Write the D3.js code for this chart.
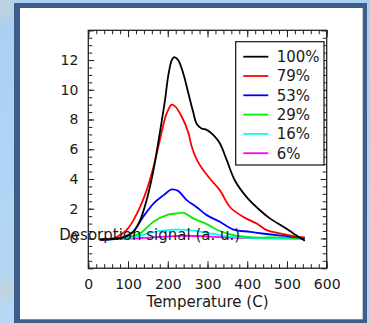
<!DOCTYPE html>
<html><head><meta charset="utf-8">
<script src="https://cdn.jsdelivr.net/npm/d3@7"></script>
<style>html,body{margin:0;padding:0;overflow:hidden;background:#aed2f2;} svg{display:block;}</style>
</head><body><svg id="c" width="370" height="323"></svg>
<script>
// ---- data ----
const labels = ["100%", "79%", "53%", "29%", "16%", "6%"];
const colors = ["#000000", "#ff0000", "#0000ff", "#00ee00", "#00ffff", "#ff00ff"];

const t100 = [29, 88, 113, 130, 147, 164, 180, 193, 201, 210, 216, 226, 239, 252, 263, 273, 285, 298, 315, 331, 348, 369, 398, 432, 457, 491, 516, 545];
const v100 = [-0.07, 0.07, 0.45, 1.2, 2.6, 4.6, 7.1, 9.3, 10.9, 12.0, 12.2, 12.0, 11.1, 9.75, 8.6, 7.7, 7.4, 7.3, 6.95, 6.4, 5.3, 3.9, 2.8, 1.9, 1.35, 0.78, 0.34, -0.16];

const t79 = [29, 71, 96, 113, 130, 147, 164, 180, 197, 210, 218, 235, 252, 260, 273, 289, 310, 331, 357, 390, 424, 449, 482, 516, 545];
const v79 = [-0.1, 0.1, 0.56, 1.2, 2.1, 3.25, 4.8, 6.6, 8.4, 9.0, 8.9, 8.2, 7.1, 6.2, 5.3, 4.6, 3.9, 3.25, 2.1, 1.45, 1.0, 0.56, 0.34, 0.16, 0.07];

const t53 = [29, 88, 113, 138, 164, 189, 210, 226, 247, 273, 298, 331, 365, 407, 449, 499, 545];
const v53 = [-0.1, 0.07, 0.45, 1.45, 2.35, 2.9, 3.3, 3.2, 2.6, 2.1, 1.57, 1.12, 0.6, 0.45, 0.3, 0.16, 0.0];

const t29 = [29, 96, 130, 164, 197, 222, 239, 264, 298, 331, 365, 415, 482, 545];
const v29 = [-0.1, 0.07, 0.34, 1.12, 1.57, 1.68, 1.73, 1.35, 0.96, 0.5, 0.22, 0.07, 0.07, 0.0];

const t16 = [29, 113, 155, 197, 231, 264, 315, 365, 449, 545];
const v16 = [-0.07, 0.07, 0.38, 0.56, 0.6, 0.52, 0.3, 0.11, 0.02, -0.02];

const t6 = [29, 130, 180, 231, 281, 365, 545];
const v6 = [-0.07, 0.02, 0.11, 0.18, 0.16, 0.05, -0.02];

const xTicks = [0, 100, 200, 300, 400, 500, 600];
const yTicks = [0, 2, 4, 6, 8, 10, 12];

const seriesT = [t100, t79, t53, t29, t16, t6];
const seriesV = [v100, v79, v53, v29, v16, v6];

// ---- drawing ----
const svg = d3.select("#c");
const FONT = "DejaVu Sans, Verdana, sans-serif";
const defs = svg.append("defs");
const bg = defs.append("linearGradient").attr("id", "bg").attr("x1", 0).attr("y1", 0).attr("x2", 0).attr("y2", 1);
bg.append("stop").attr("offset", 0).attr("stop-color", "#a9cff2");
bg.append("stop").attr("offset", 1).attr("stop-color", "#b6d8f5");
const blob = defs.append("radialGradient").attr("id", "blob");
blob.append("stop").attr("offset", 0).attr("stop-color", "#c3d3d8").attr("stop-opacity", 0.9);
blob.append("stop").attr("offset", 1).attr("stop-color", "#c3d3d8").attr("stop-opacity", 0);
svg.append("rect").attr("width", 370).attr("height", 323).attr("fill", "url(#bg)");
svg.append("circle").attr("cx", 4).attr("cy", 6).attr("r", 22).attr("fill", "url(#blob)");
svg.append("circle").attr("cx", 6).attr("cy", 290).attr("r", 18).attr("fill", "url(#blob)");
svg.append("rect").attr("x", 14).attr("y", 3).attr("width", 353).attr("height", 322).attr("fill", "#3d5d8b");
svg.append("rect").attr("x", 20).attr("y", 8).attr("width", 342.7).attr("height", 311.3).attr("fill", "#ffffff");

const x = d3.scaleLinear().domain([0, 600]).range([88.3, 326.7]);
const y = d3.scaleLinear().domain([-2, 14]).range([268.2, 30.3]);

const minorX = d3.range(0, 601, 20);
const minorY = d3.range(-2, 14.01, 0.5);
const majorY = d3.range(-2, 14.01, 2);

function styleAxis(g) {
  g.select(".domain").remove();
  g.selectAll("line").attr("stroke", "#222").attr("stroke-width", 1);
  g.selectAll("text").attr("font-family", FONT).attr("font-size", 14).attr("fill", "#1a1a1a");
}
// minor ticks
[[d3.axisBottom(x), 268.2], [d3.axisTop(x), 30.3]].forEach(([ax, pos]) => {
  svg.append("g").attr("transform", `translate(0,${pos})`)
    .call(ax.tickValues(minorX).tickSizeInner(-4).tickSizeOuter(0).tickFormat("")).call(styleAxis);
});
[[d3.axisLeft(y), 88.3], [d3.axisRight(y), 326.7]].forEach(([ax, pos]) => {
  svg.append("g").attr("transform", `translate(${pos},0)`)
    .call(ax.tickValues(minorY).tickSizeInner(-4).tickSizeOuter(0).tickFormat("")).call(styleAxis);
});
// major ticks
svg.append("g").attr("transform", "translate(0,268.2)")
  .call(d3.axisBottom(x).tickValues(xTicks).tickSizeInner(-7).tickSizeOuter(0).tickPadding(11).tickFormat(d3.format("d"))).call(styleAxis);
svg.append("g").attr("transform", "translate(0,30.3)")
  .call(d3.axisTop(x).tickValues(xTicks).tickSizeInner(-7).tickSizeOuter(0).tickFormat("")).call(styleAxis);
svg.append("g").attr("transform", "translate(88.3,0)")
  .call(d3.axisLeft(y).tickValues(majorY).tickSizeInner(-6).tickSizeOuter(0).tickPadding(10)
    .tickFormat(d => yTicks.includes(d) ? d3.format("d")(d) : "")).call(styleAxis);
svg.append("g").attr("transform", "translate(326.7,0)")
  .call(d3.axisRight(y).tickValues(majorY).tickSizeInner(-6).tickSizeOuter(0).tickFormat("")).call(styleAxis);

// frame
svg.append("rect").attr("x", x(0)).attr("y", y(14)).attr("width", x(600) - x(0)).attr("height", y(-2) - y(14))
  .attr("fill", "none").attr("stroke", "#222").attr("stroke-width", 1.3);

// curves
const line = d3.line().x(d => x(d[0])).y(d => y(d[1])).curve(d3.curveCatmullRom.alpha(0.5));
[5, 4, 3, 2, 1, 0].forEach(i => {
  const pts = seriesT[i].map((t, j) => [t, seriesV[i][j]]);
  svg.append("path").attr("d", line(pts)).attr("fill", "none")
    .attr("stroke", colors[i]).attr("stroke-width", 1.8).attr("stroke-linejoin", "round");
});

// legend
svg.append("rect").attr("x", 235.7).attr("y", 41.7).attr("width", 88.3).attr("height", 123.3)
  .attr("fill", "#fff").attr("stroke", "#111").attr("stroke-width", 1.2);
labels.forEach((lab, i) => {
  const cy = 56.7 + i * 19.3;
  svg.append("line").attr("x1", 243.3).attr("x2", 268.3).attr("y1", cy).attr("y2", cy)
    .attr("stroke", colors[i]).attr("stroke-width", 1.8);
  svg.append("text").attr("x", 276.7).attr("y", cy + 5.3).text(lab)
    .attr("font-family", FONT).attr("font-size", 15).attr("fill", "#1a1a1a");
});

// axis titles
svg.append("text").attr("x", x(300)).attr("y", 307).attr("text-anchor", "middle").text("Temperature (C)")
  .attr("font-family", FONT).attr("font-size", 15).attr("fill", "#1a1a1a");
svg.append("text").attr("x", 59.3).attr("y", 239.5).text("Desorption signal (a. u.)")
  .attr("font-family", FONT).attr("font-size", 15).attr("fill", "#1a1a1a");
</script></body></html>
